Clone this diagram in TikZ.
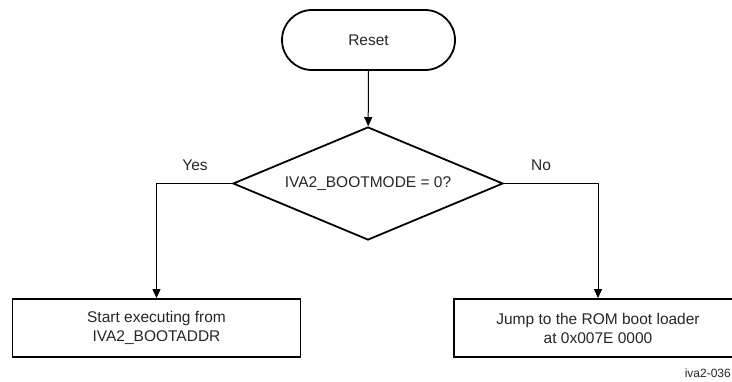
\documentclass[tikz,border=0pt]{standalone}
\usepackage{fontspec}
\setmainfont{Liberation Sans}
\usetikzlibrary{shapes.geometric,arrows.meta}
\begin{document}
\begin{tikzpicture}[x=1pt,y=-1pt,
  txt/.style={font=\fontsize{15.5}{19}\selectfont, text=black!85},
  shapeline/.style={draw=black, line width=1.8pt},
  conn/.style={draw=black, line width=1pt, -{Triangle[length=9pt,width=8pt]}},
  lbl/.style={txt, inner sep=0pt, anchor=base}]
\useasboundingbox (0,0) rectangle (732,381);
\node[shapeline, txt, rounded corners=30pt, minimum width=173pt, minimum height=60pt, inner sep=0pt] (reset) at (368.5,40) {Reset};
\node[shapeline, txt, diamond, aspect=2.39, minimum width=270pt, minimum height=113pt, inner sep=0pt] (dec) at (368,183.5) {IVA2\_BOOTMODE = 0?};
\node[shapeline, txt, minimum width=288pt, minimum height=58pt, inner sep=0pt, align=center] (start) at (156.5,328) {Start executing from\\IVA2\_BOOTADDR};
\node[shapeline, txt, minimum width=288pt, minimum height=58pt, inner sep=0pt, align=center] (jump) at (598,328) {Jump to the ROM boot loader\\at 0x007E 0000};
\draw[conn] (reset) -- (dec);
\draw[conn] (dec.west) -| (start.north);
\draw[conn] (dec.east) -| (jump.north);
\node[lbl] (yes) at (195,170) {Yes};
\node[lbl] (no) at (541,170) {No};
\node[inner sep=0pt, anchor=base east, font=\fontsize{12}{14}\selectfont, text=black!85] (tag) at (731,377) {iva2-036};
\end{tikzpicture}
\end{document}
